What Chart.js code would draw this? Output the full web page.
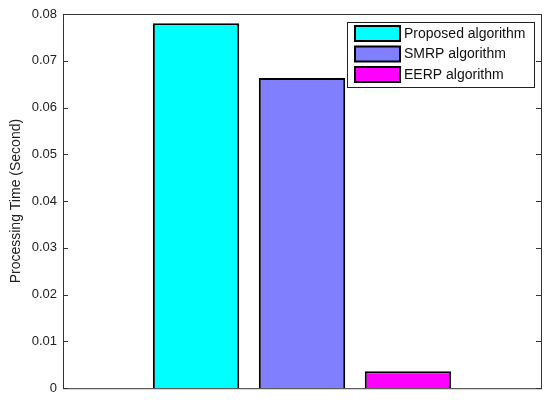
<!DOCTYPE html>
<html>
<head>
<meta charset="utf-8">
<script src="https://cdn.jsdelivr.net/npm/chart.js@4"></script>
<style>
  html, body { margin: 0; padding: 0; background: #fff; }
  #wrap { width: 550px; height: 402px; position: relative; }
</style>
</head>
<body>
<div id="wrap"><canvas id="barChart"></canvas></div>
<script>
// chart data
const seriesNames = ['Proposed algorithm', 'SMRP algorithm', 'EERP algorithm'];
const seriesValues = [0.0780, 0.0663, 0.0036];
const seriesColors = ['#00FFFF', '#8080FF', '#FF00FF'];
const yTickLabels = ['0', '0.01', '0.02', '0.03', '0.04', '0.05', '0.06', '0.07', '0.08'];
const yTitle = 'Processing Time (Second)';

const fontFamily = 'Arial, "Liberation Sans", sans-serif';

// MATLAB style box, inward ticks and legend
const matlabAxes = {
    id: 'matlabAxes',
    afterDatasetsDraw(chart) {
        const { ctx, chartArea: a, scales } = chart;
        ctx.save();
        ctx.strokeStyle = '#333';
        ctx.lineWidth = 1;
        ctx.strokeRect(a.left + 0.5, a.top + 0.5, a.right - a.left, a.bottom - a.top);
        scales.y.ticks.forEach(t => {
            const y = Math.round(scales.y.getPixelForValue(t.value)) + 0.5;
            ctx.beginPath();
            ctx.moveTo(a.left, y); ctx.lineTo(a.left + 5, y);
            ctx.moveTo(a.right, y); ctx.lineTo(a.right - 5, y);
            ctx.stroke();
        });

        // legend
        const lx = 347, ly = 22, lw = 187, lh = 65;
        ctx.fillStyle = '#fff';
        ctx.fillRect(lx, ly, lw, lh);
        ctx.strokeStyle = '#222';
        ctx.strokeRect(lx + 0.5, ly + 0.5, lw, lh);
        ctx.font = '14px ' + fontFamily;
        ctx.textBaseline = 'middle';
        chart.data.datasets.forEach((ds, i) => {
            const cy = ly + 11 + i * 20.5;
            ctx.fillStyle = ds.backgroundColor;
            ctx.fillRect(355, cy - 7, 45, 15);
            ctx.lineWidth = 2;
            ctx.strokeStyle = '#000';
            ctx.strokeRect(355, cy - 7, 45, 15);
            ctx.fillStyle = '#111';
            ctx.fillText(ds.label, 404, cy + 1);
        });
        ctx.restore();
    }
};

new Chart(document.getElementById('barChart'), {
    type: 'bar',
    data: {
        labels: [''],
        datasets: seriesNames.map((name, i) => ({
            label: name,
            data: [seriesValues[i]],
            backgroundColor: seriesColors[i],
            borderColor: '#000',
            borderWidth: 2,
            barPercentage: 0.815,
            categoryPercentage: 0.665
        }))
    },
    options: {
        responsive: true,
        maintainAspectRatio: false,
        animation: false,
        layout: { padding: { top: 14, right: 9, left: 0, bottom: 0 } },
        plugins: { legend: { display: false }, tooltip: { enabled: false } },
        scales: {
            x: {
                grid: { display: false, drawTicks: false },
                border: { display: false },
                ticks: { display: false },
                afterFit: s => { s.height = 13; }
            },
            y: {
                min: 0, max: 0.08,
                grid: { display: false, drawTicks: false },
                border: { display: false },
                ticks: {
                    stepSize: 0.01,
                    color: '#222',
                    font: { family: fontFamily, size: 13 },
                    padding: 6,
                    callback: (v, i) => yTickLabels[i]
                },
                title: {
                    display: true, text: yTitle, color: '#222',
                    font: { family: fontFamily, size: 14 },
                    padding: { top: 8, bottom: 0 }
                },
                afterFit: s => { s.width = 63; }
            }
        }
    },
    plugins: [matlabAxes]
});
</script>
</body>
</html>
